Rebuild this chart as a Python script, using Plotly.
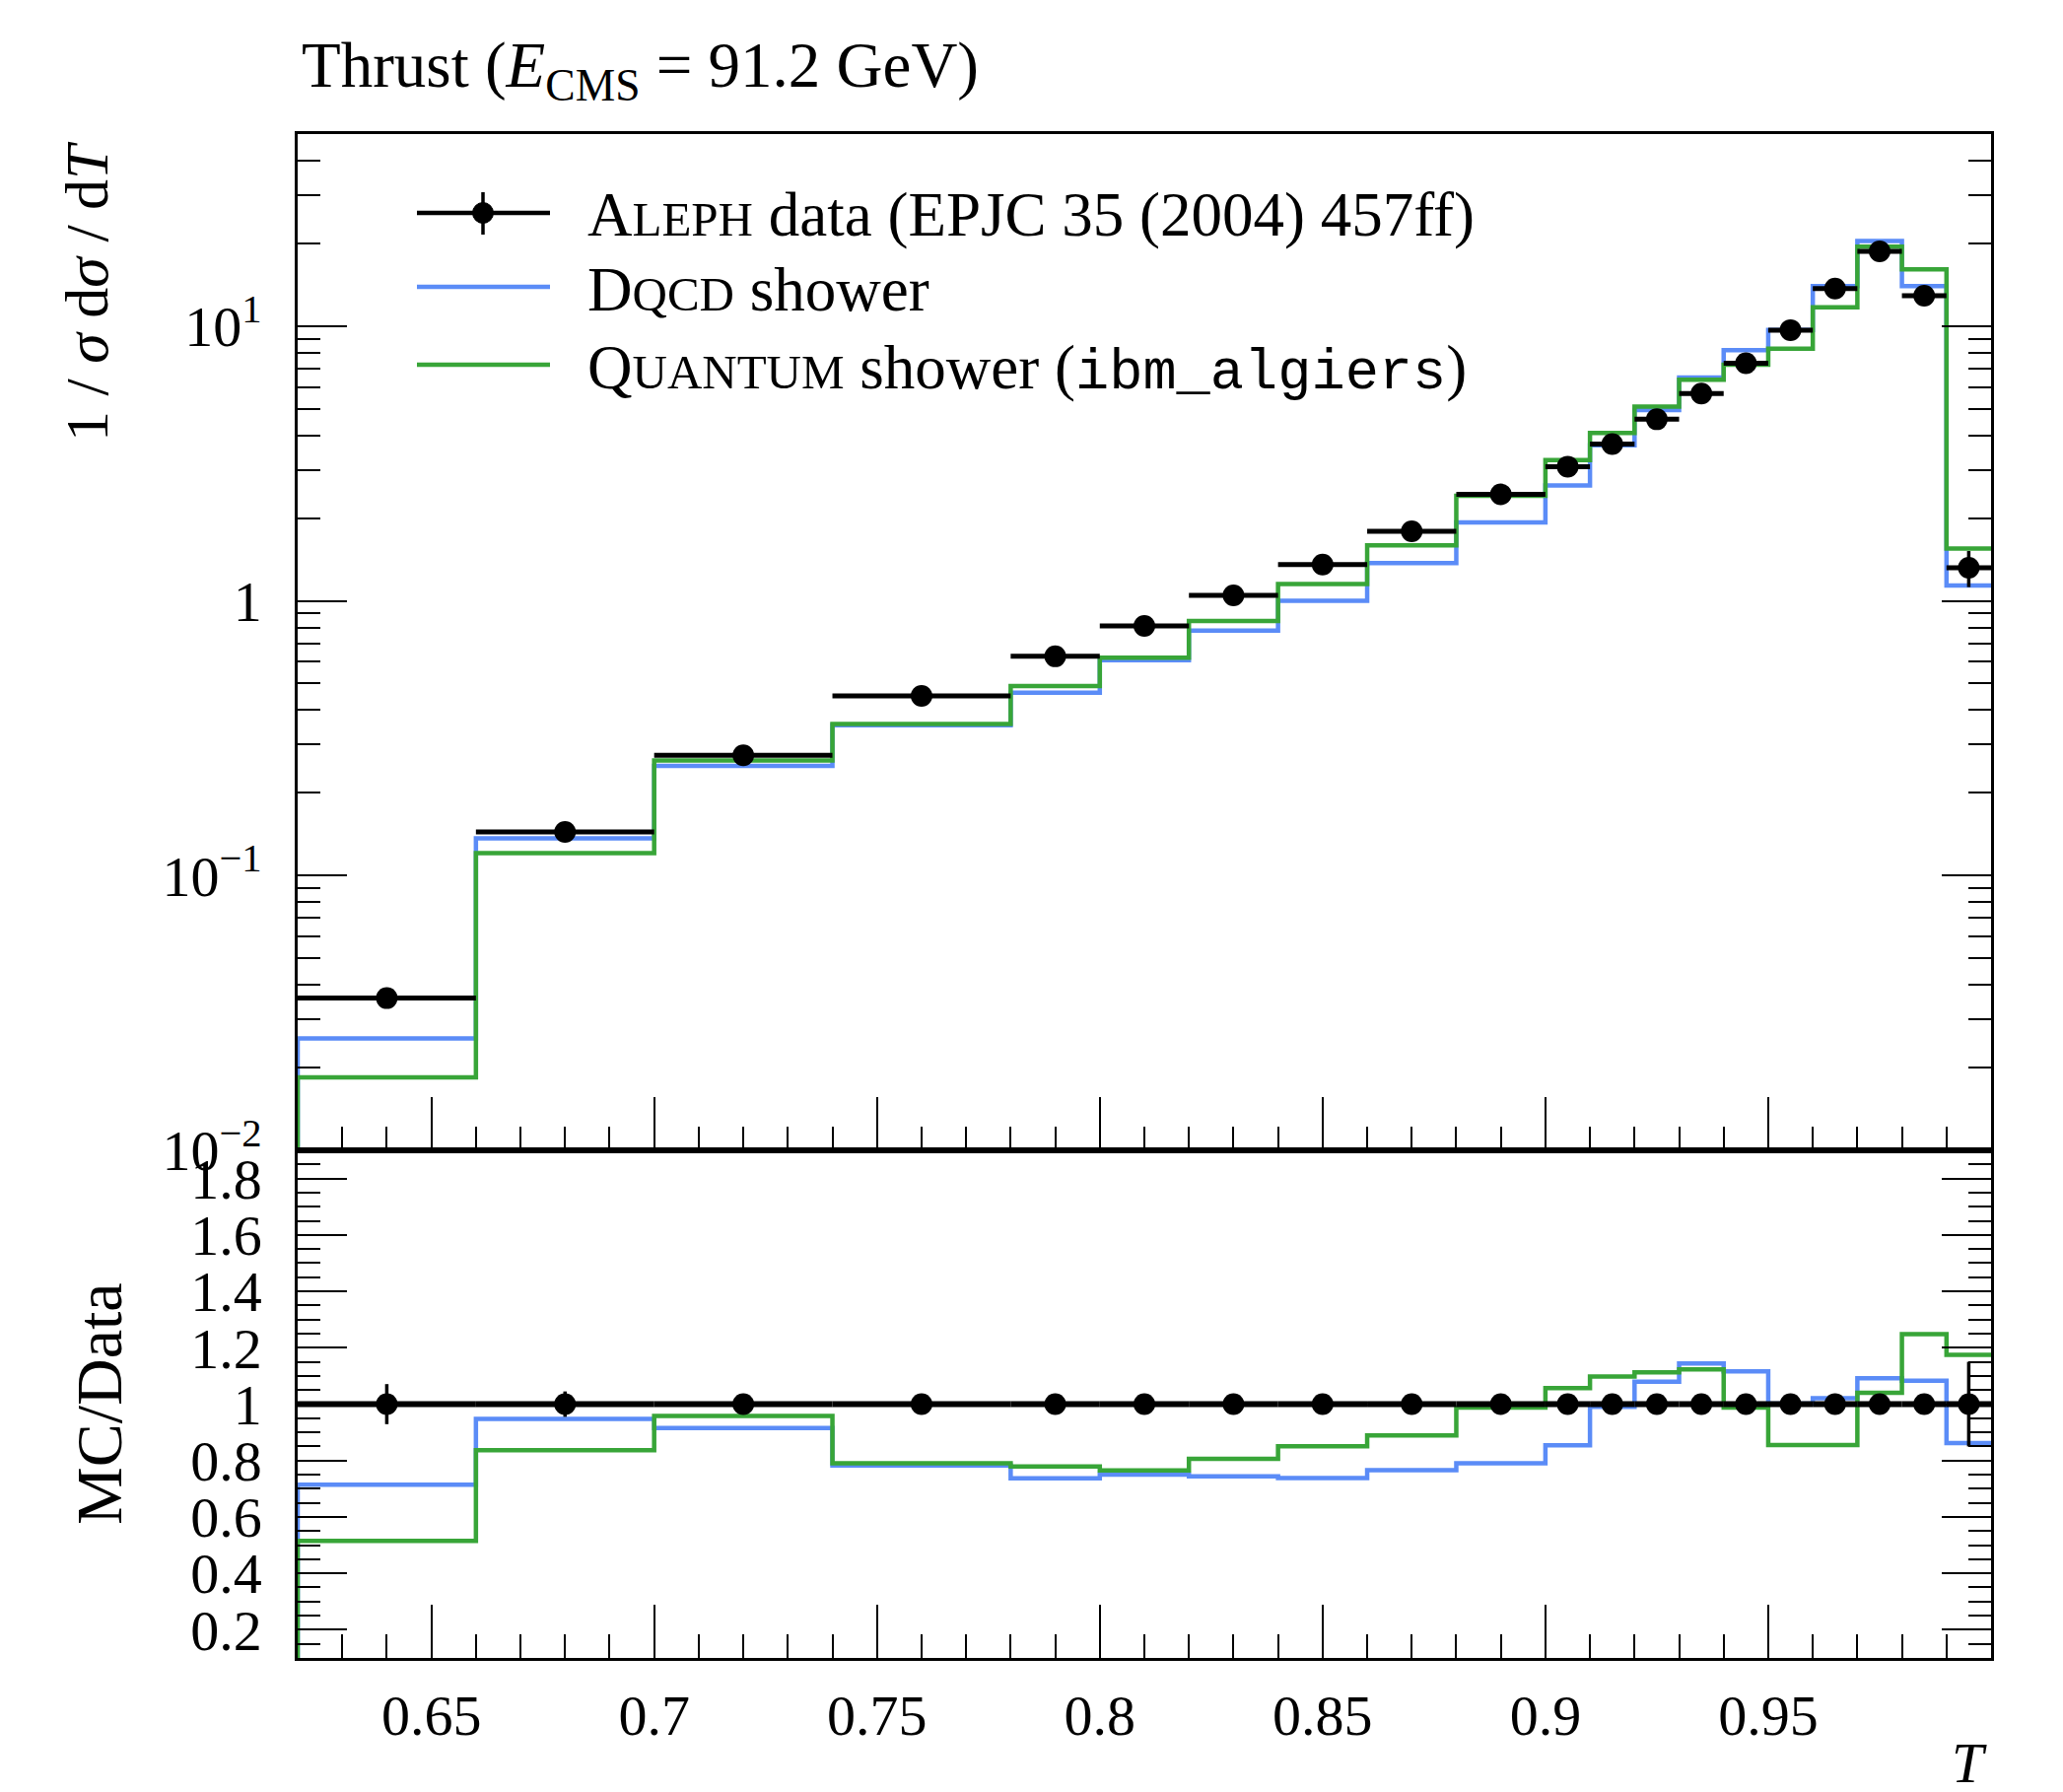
import plotly.graph_objects as go

# ---------------- data ----------------
bin_edges = [0.62, 0.66, 0.70, 0.74, 0.78, 0.80, 0.82, 0.84, 0.86, 0.88, 0.90,
             0.91, 0.92, 0.93, 0.94, 0.95, 0.96, 0.97, 0.98, 0.99, 1.00]
aleph_data = [0.0358, 0.1442, 0.274, 0.451, 0.628, 0.811, 1.047, 1.355, 1.79, 2.44,
              3.08, 3.72, 4.58, 5.68, 7.32, 9.67, 13.7, 18.7, 12.9, 1.32]
aleph_relerr = [0.071, 0.045, 0.02, 0.015, 0.012, 0.012, 0.012, 0.012, 0.012, 0.012,
                0.012, 0.012, 0.012, 0.012, 0.012, 0.012, 0.012, 0.012, 0.012, 0.15]
dqcd_shower = [0.02556, 0.1367, 0.2507, 0.3527, 0.4628, 0.6083, 0.7790, 1.000, 1.371, 1.928,
               2.630, 3.683, 4.946, 6.498, 8.169, 9.689, 13.99, 20.42, 13.97, 1.138]
quantum_shower = [0.01844, 0.1207, 0.2625, 0.3563, 0.4892, 0.6204, 0.8439, 1.152, 1.591, 2.411,
                  3.256, 4.085, 5.098, 6.379, 7.232, 8.268, 11.71, 19.45, 16.10, 1.551]

main_tickvals = [0.01, 0.1, 1, 10]
main_ticktext = ["10<sup>\u22122</sup>", "10<sup>\u22121</sup>", "1", "10<sup>1</sup>"]
ratio_tickvals = [0.2, 0.4, 0.6, 0.8, 1.0, 1.2, 1.4, 1.6, 1.8]
ratio_ticktext = ["0.2", "0.4", "0.6", "0.8", "1", "1.2", "1.4", "1.6", "1.8"]
x_tickvals = [0.65, 0.70, 0.75, 0.80, 0.85, 0.90, 0.95]
x_ticktext = ["0.65", "0.7", "0.75", "0.8", "0.85", "0.9", "0.95"]

# ---------------- style ----------------
W, H = 2093, 1818
OFF = 8  # default page body margin
L, R, T, B = 302, 2020, 136, 1682  # plot-area edges in window pixels
RATIO_FRAC = 515 / 1546
MAIN_RANGE = [-2, 1.699]
RATIO_RANGE = [0.1, 1.9]
BLUE = "#5b8cf7"
GREEN = "#38a538"
FONT = "Liberation Serif"
FS = 58

centers = [(a + b) / 2 for a, b in zip(bin_edges[:-1], bin_edges[1:])]
xerr_p = [b - c for b, c in zip(bin_edges[1:], centers)]
xerr_m = [c - a for a, c in zip(bin_edges[:-1], centers)]
data_err = [v * e for v, e in zip(aleph_data, aleph_relerr)]


def step(vals, floor):
    xs = [bin_edges[0]] + list(bin_edges)
    ys = [floor] + list(vals) + [vals[-1]]
    return xs, ys


fig = go.Figure()
main_floor = 10 ** (MAIN_RANGE[0] - 1)
for vals, col in [(dqcd_shower, BLUE), (quantum_shower, GREEN)]:
    xs, ys = step(vals, main_floor)
    fig.add_trace(go.Scatter(x=xs, y=ys, mode="lines", line=dict(color=col, width=4.5, shape="hv"),
                             xaxis="x", yaxis="y", showlegend=False, hoverinfo="skip"))
    r = [m / d for m, d in zip(vals, aleph_data)]
    xs, ys = step(r, 0.0)
    fig.add_trace(go.Scatter(x=xs, y=ys, mode="lines", line=dict(color=col, width=4.5, shape="hv"),
                             xaxis="x2", yaxis="y2", showlegend=False, hoverinfo="skip"))

fig.add_trace(go.Scatter(
    x=centers, y=aleph_data, mode="markers", marker=dict(color="black", size=22),
    error_x=dict(type="data", symmetric=False, array=xerr_p, arrayminus=xerr_m,
                 color="black", thickness=5, width=0),
    error_y=dict(type="data", array=data_err, color="black", thickness=3.5, width=0),
    xaxis="x", yaxis="y", showlegend=False))
fig.add_trace(go.Scatter(
    x=centers, y=[1.0] * len(centers), mode="markers", marker=dict(color="black", size=22),
    error_x=dict(type="data", symmetric=False, array=xerr_p, arrayminus=xerr_m,
                 color="black", thickness=6, width=0),
    error_y=dict(type="data", array=aleph_relerr, color="black", thickness=3.5, width=0),
    xaxis="x2", yaxis="y2", showlegend=False))

axis_common = dict(showline=True, linecolor="black", linewidth=2.5, mirror=True,
                   showgrid=False, zeroline=False, ticks="inside", tickcolor="black")

fig.update_layout(
    width=W, height=H,
    margin=dict(l=L - OFF, r=W + OFF - R, t=T - OFF, b=H + OFF - B),
    paper_bgcolor="white", plot_bgcolor="white",
    font=dict(family=FONT, size=FS, color="black"),
    xaxis=dict(**axis_common, domain=[0, 1], range=[0.62, 1.0], anchor="y",
               tickvals=x_tickvals, ticklen=54, tickwidth=2, showticklabels=False,
               minor=dict(ticks="inside", dtick=0.01, tick0=0, ticklen=24, tickwidth=2,
                          tickcolor="black", showgrid=False)),
    yaxis=dict(**axis_common, type="log", domain=[RATIO_FRAC, 1], range=MAIN_RANGE, anchor="x",
               tickvals=main_tickvals, ticktext=main_ticktext, ticklen=50, tickwidth=2,
               ticklabelstandoff=22,
               minor=dict(ticks="inside", dtick="D1", ticklen=23, tickwidth=2,
                          tickcolor="black", showgrid=False)),
    xaxis2=dict(**axis_common, domain=[0, 1], range=[0.62, 1.0], anchor="y2",
                tickvals=x_tickvals, ticktext=x_ticktext, ticklen=54, tickwidth=2,
                ticklabelstandoff=6,
                minor=dict(ticks="inside", dtick=0.01, tick0=0, ticklen=24, tickwidth=2,
                           tickcolor="black", showgrid=False)),
    yaxis2=dict(**axis_common, domain=[0, RATIO_FRAC], range=RATIO_RANGE, anchor="x2",
                tickvals=ratio_tickvals, ticktext=ratio_ticktext, ticklen=50, tickwidth=2,
                ticklabelstandoff=22,
                minor=dict(ticks="inside", dtick=0.05, tick0=0, ticklen=23, tickwidth=2,
                           tickcolor="black", showgrid=False)),
)
for ax in ["yaxis", "yaxis2"]:
    fig.layout[ax].mirror = "allticks"


def px(X):
    return (X - L) / (R - L)


def py(Y):
    return (B - Y) / (B - T)


ann = []
ann.append(dict(text="Thrust (<i>E</i><sub>CMS</sub> = 91.2 GeV)", x=px(304), y=py(71),
                xanchor="left", yanchor="middle", font=dict(size=65)))
ann.append(dict(text="1 / <i>σ</i> d<i>σ</i> / d<i>T</i>", x=px(88), y=py(296), textangle=-90,
                xanchor="center", yanchor="middle", font=dict(size=62)))
ann.append(dict(text="MC/Data", x=px(100), y=py(1424), textangle=-90,
                xanchor="center", yanchor="middle", font=dict(size=66)))
ann.append(dict(text="<i>T</i>", x=px(1998), y=py(1788), xanchor="center", yanchor="middle",
                font=dict(size=58)))

sc = 'style="font-size:49px"'
legend_rows = [
    (218, f"A<span {sc}>LEPH</span> data (EPJC 35 (2004) 457ff)"),
    (294, f"D<span {sc}>QCD</span> shower"),
    (374, f"Q<span {sc}>UANTUM</span> shower (<span style=\"font-family:Liberation Mono;font-size:57px\">ibm_algiers</span>)"),
]
for Y, txt in legend_rows:
    ann.append(dict(text=txt, x=px(594), y=py(Y), xanchor="left", yanchor="middle",
                    font=dict(size=63)))
for a in ann:
    a.update(xref="paper", yref="paper", showarrow=False)
fig.update_layout(annotations=ann)

shapes = []
for Y, col in [(216, "black"), (291, BLUE), (370, GREEN)]:
    shapes.append(dict(type="line", xref="paper", yref="paper", x0=px(423), x1=px(558),
                       y0=py(Y), y1=py(Y), line=dict(color=col, width=4.5)))
shapes.append(dict(type="line", xref="paper", yref="paper", x0=px(490), x1=px(490),
                   y0=py(195), y1=py(238), line=dict(color="black", width=3.5)))
shapes.append(dict(type="circle", xref="paper", yref="paper", fillcolor="black",
                   line=dict(color="black", width=1),
                   x0=px(490 - 10.5), x1=px(490 + 10.5), y0=py(216 + 10.5), y1=py(216 - 10.5)))
fig.update_layout(shapes=shapes)

fig.write_html("out.html")
